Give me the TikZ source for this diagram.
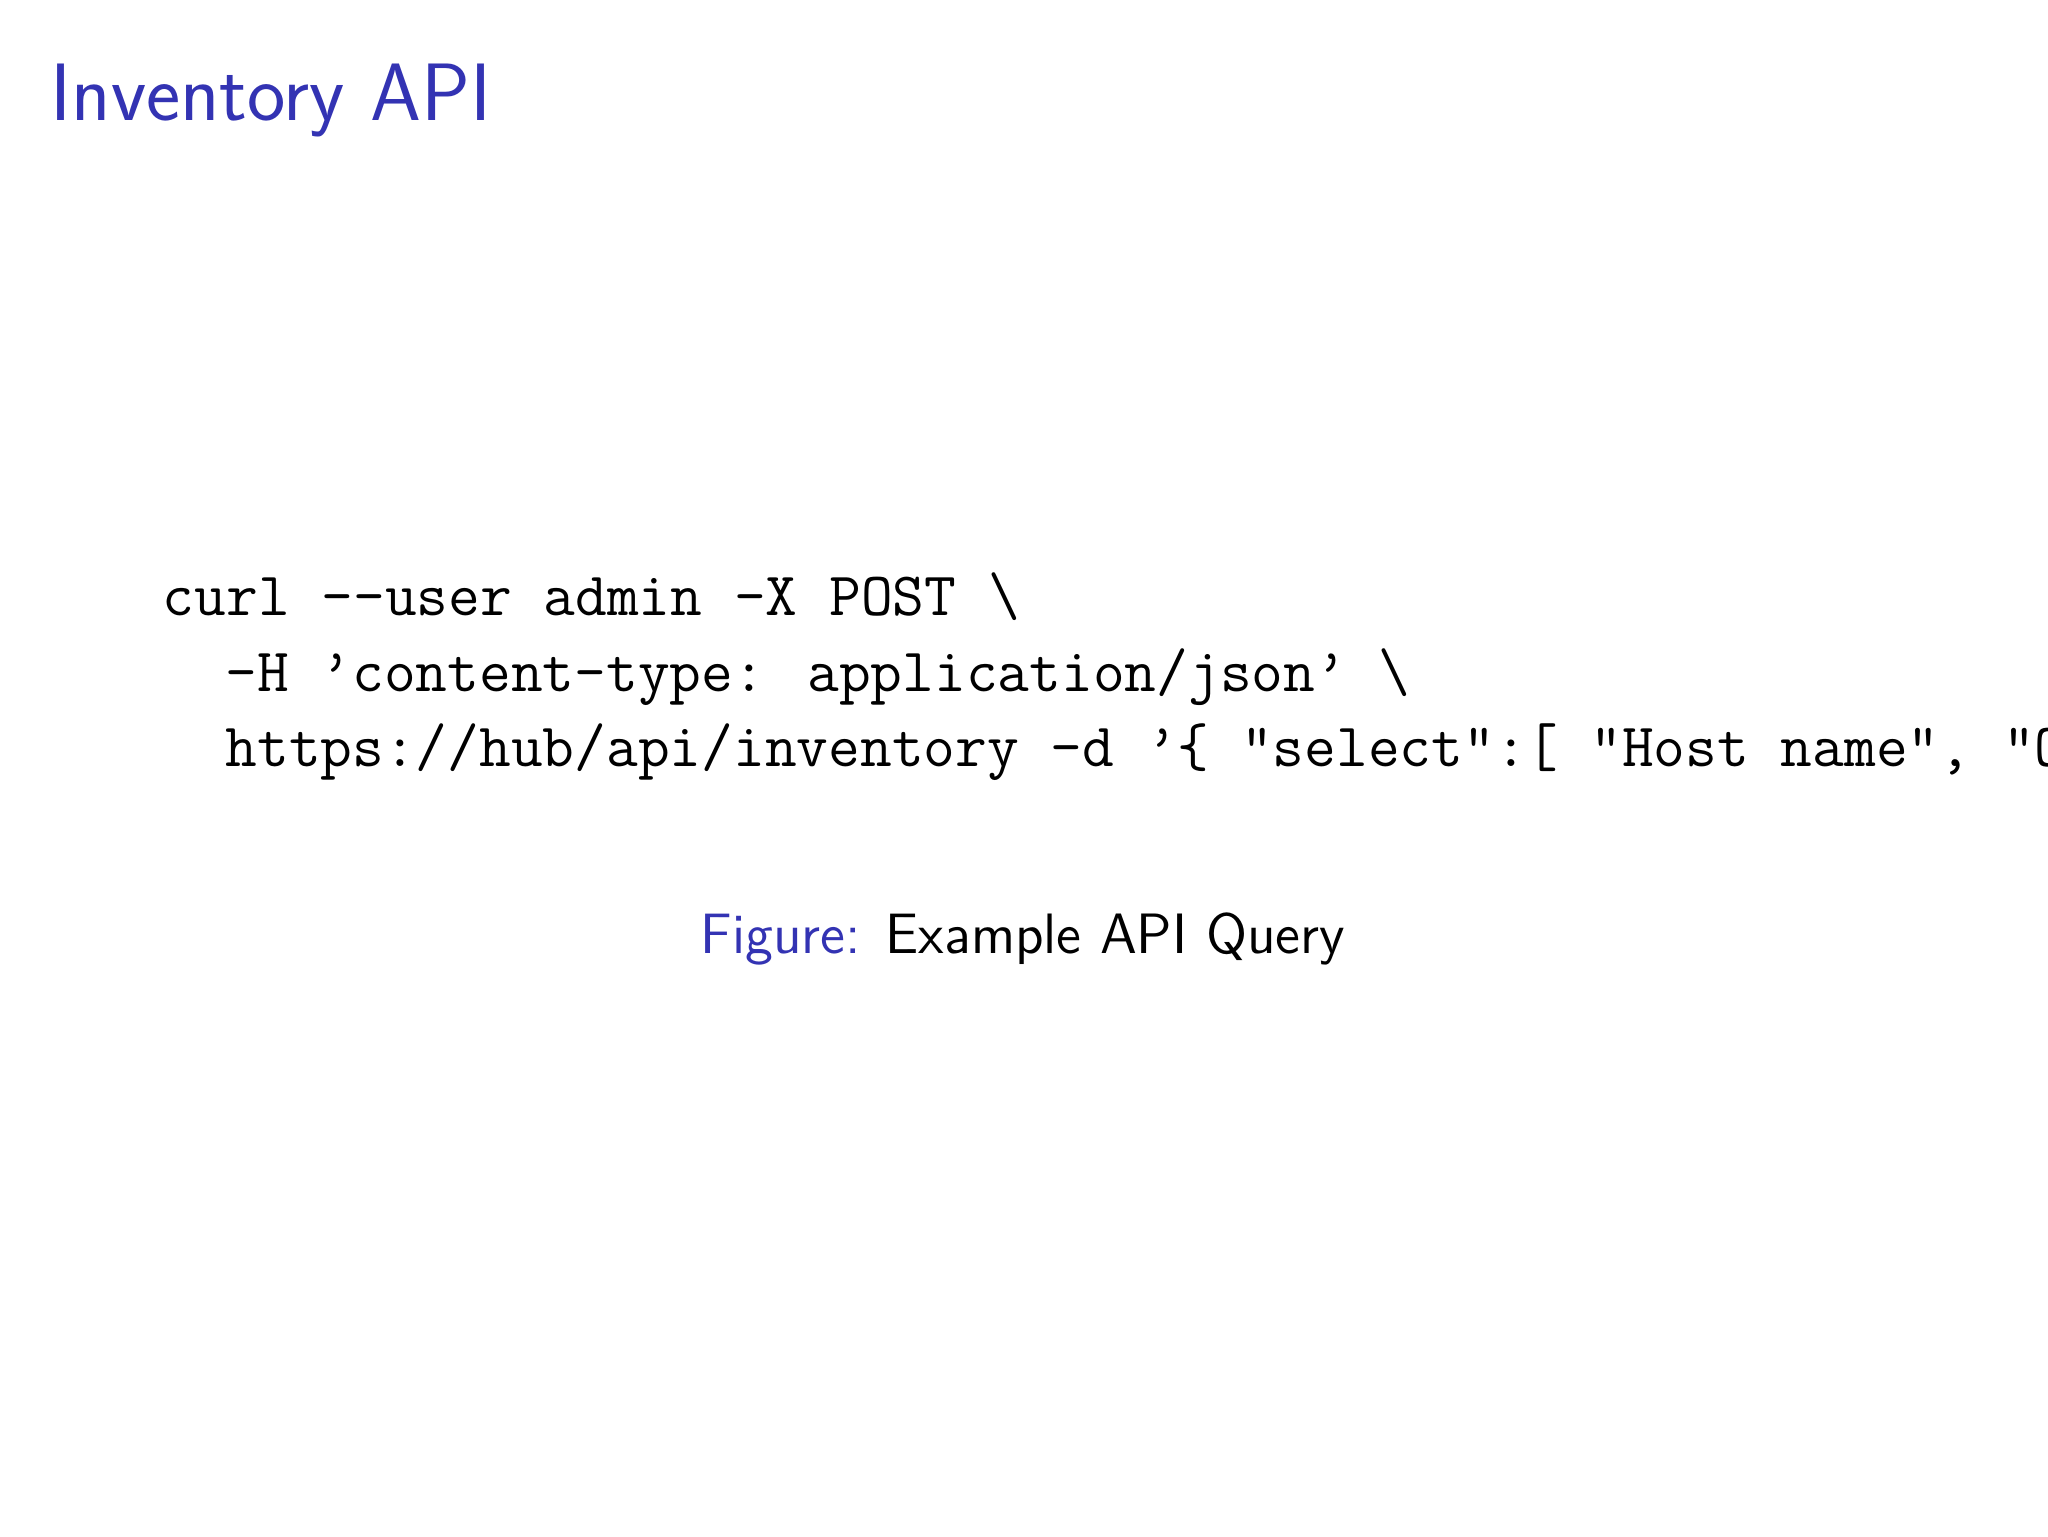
\documentclass[tikz,border=0pt]{standalone}
\usepackage{fontspec}
\definecolor{bblue}{RGB}{51,51,179}
\begin{document}
\begin{tikzpicture}[x=1cm,y=1cm,
  code/.style={anchor=base west,inner sep=0pt,font=\fontsize{13.7}{16}\selectfont\ttfamily}]
\useasboundingbox (0,0) rectangle (16,-12);
\clip (0,0) rectangle (16,-12);
\fill[white] (0,0) rectangle (16,-12);
\node[anchor=base west,inner sep=0pt,text=bblue,font=\fontsize{18.1}{20}\selectfont\sffamily] (title) at (0.39,-0.94) {Inventory API};
\node[code] (l1) at (1.265,-4.81) {curl --user admin -X POST \textbackslash};
\node[code] (l2) at (1.755,-5.40) {-H ’content-type: application/json’ \textbackslash};
\node[code] (l3) at (1.755,-5.99) {https://hub/api/inventory -d ’\{ "select":[ "Host name", "OS type" ] \}’};
\node[anchor=base,inner sep=0pt,font=\fontsize{12.65}{15}\selectfont\sffamily] (cap) at (7.99,-7.45) {\textcolor{bblue}{Figure:} Example API Query};
\end{tikzpicture}
\end{document}
